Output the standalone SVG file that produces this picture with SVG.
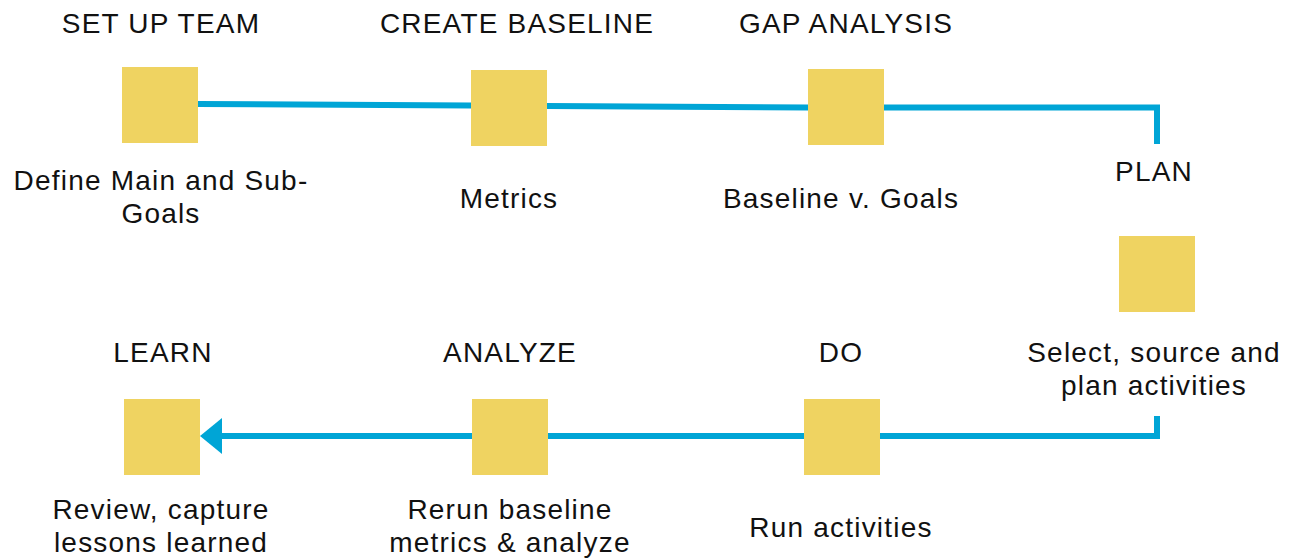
<svg xmlns="http://www.w3.org/2000/svg" width="1295" height="560" viewBox="0 0 1295 560">
<style>
.sq{fill:#EFD361}
.t{font-family:"Liberation Sans",Arial,sans-serif;font-size:28px;letter-spacing:1.2px;fill:#111;text-anchor:middle}
.ln{fill:none;stroke:#00A5D6;stroke-width:6}
</style>
<rect width="1295" height="560" fill="#fff"/>
<g id="connectors">
<polyline class="ln" points="198,104 471,105.5 547,106 808,107.5 884,107.5 1157,107.5 1157,144"/>
<polyline class="ln" points="1157,416 1157,436 880,436 804,436 548,436 472,436 222,436"/>
<path d="M200,436 L222,418 L222,454 Z" fill="#00A5D6"/>
</g>
<g id="setup">
<rect class="sq" x="122" y="67" width="76" height="76"/>
<text class="t" x="161" y="33">SET UP TEAM</text>
<text class="t" x="161" y="190">Define Main and Sub-</text>
<text class="t" x="161" y="223">Goals</text>
</g>
<g id="baseline">
<rect class="sq" x="471" y="70" width="76" height="76"/>
<text class="t" x="517" y="33">CREATE BASELINE</text>
<text class="t" x="509" y="208">Metrics</text>
</g>
<g id="gap">
<rect class="sq" x="808" y="69" width="76" height="76"/>
<text class="t" x="846" y="33">GAP ANALYSIS</text>
<text class="t" x="841" y="208">Baseline v. Goals</text>
</g>
<g id="plan">
<rect class="sq" x="1119" y="236" width="76" height="76"/>
<text class="t" x="1154" y="181">PLAN</text>
<text class="t" x="1154" y="362">Select, source and</text>
<text class="t" x="1154" y="395">plan activities</text>
</g>
<g id="do">
<rect class="sq" x="804" y="399" width="76" height="76"/>
<text class="t" x="841" y="362">DO</text>
<text class="t" x="841" y="537">Run activities</text>
</g>
<g id="analyze">
<rect class="sq" x="472" y="399" width="76" height="76"/>
<text class="t" x="510" y="362">ANALYZE</text>
<text class="t" x="510" y="519">Rerun baseline</text>
<text class="t" x="510" y="552">metrics &amp; analyze</text>
</g>
<g id="learn">
<rect class="sq" x="124" y="399" width="76" height="76"/>
<text class="t" x="163" y="362">LEARN</text>
<text class="t" x="161" y="519">Review, capture</text>
<text class="t" x="161" y="552">lessons learned</text>
</g>
</svg>
